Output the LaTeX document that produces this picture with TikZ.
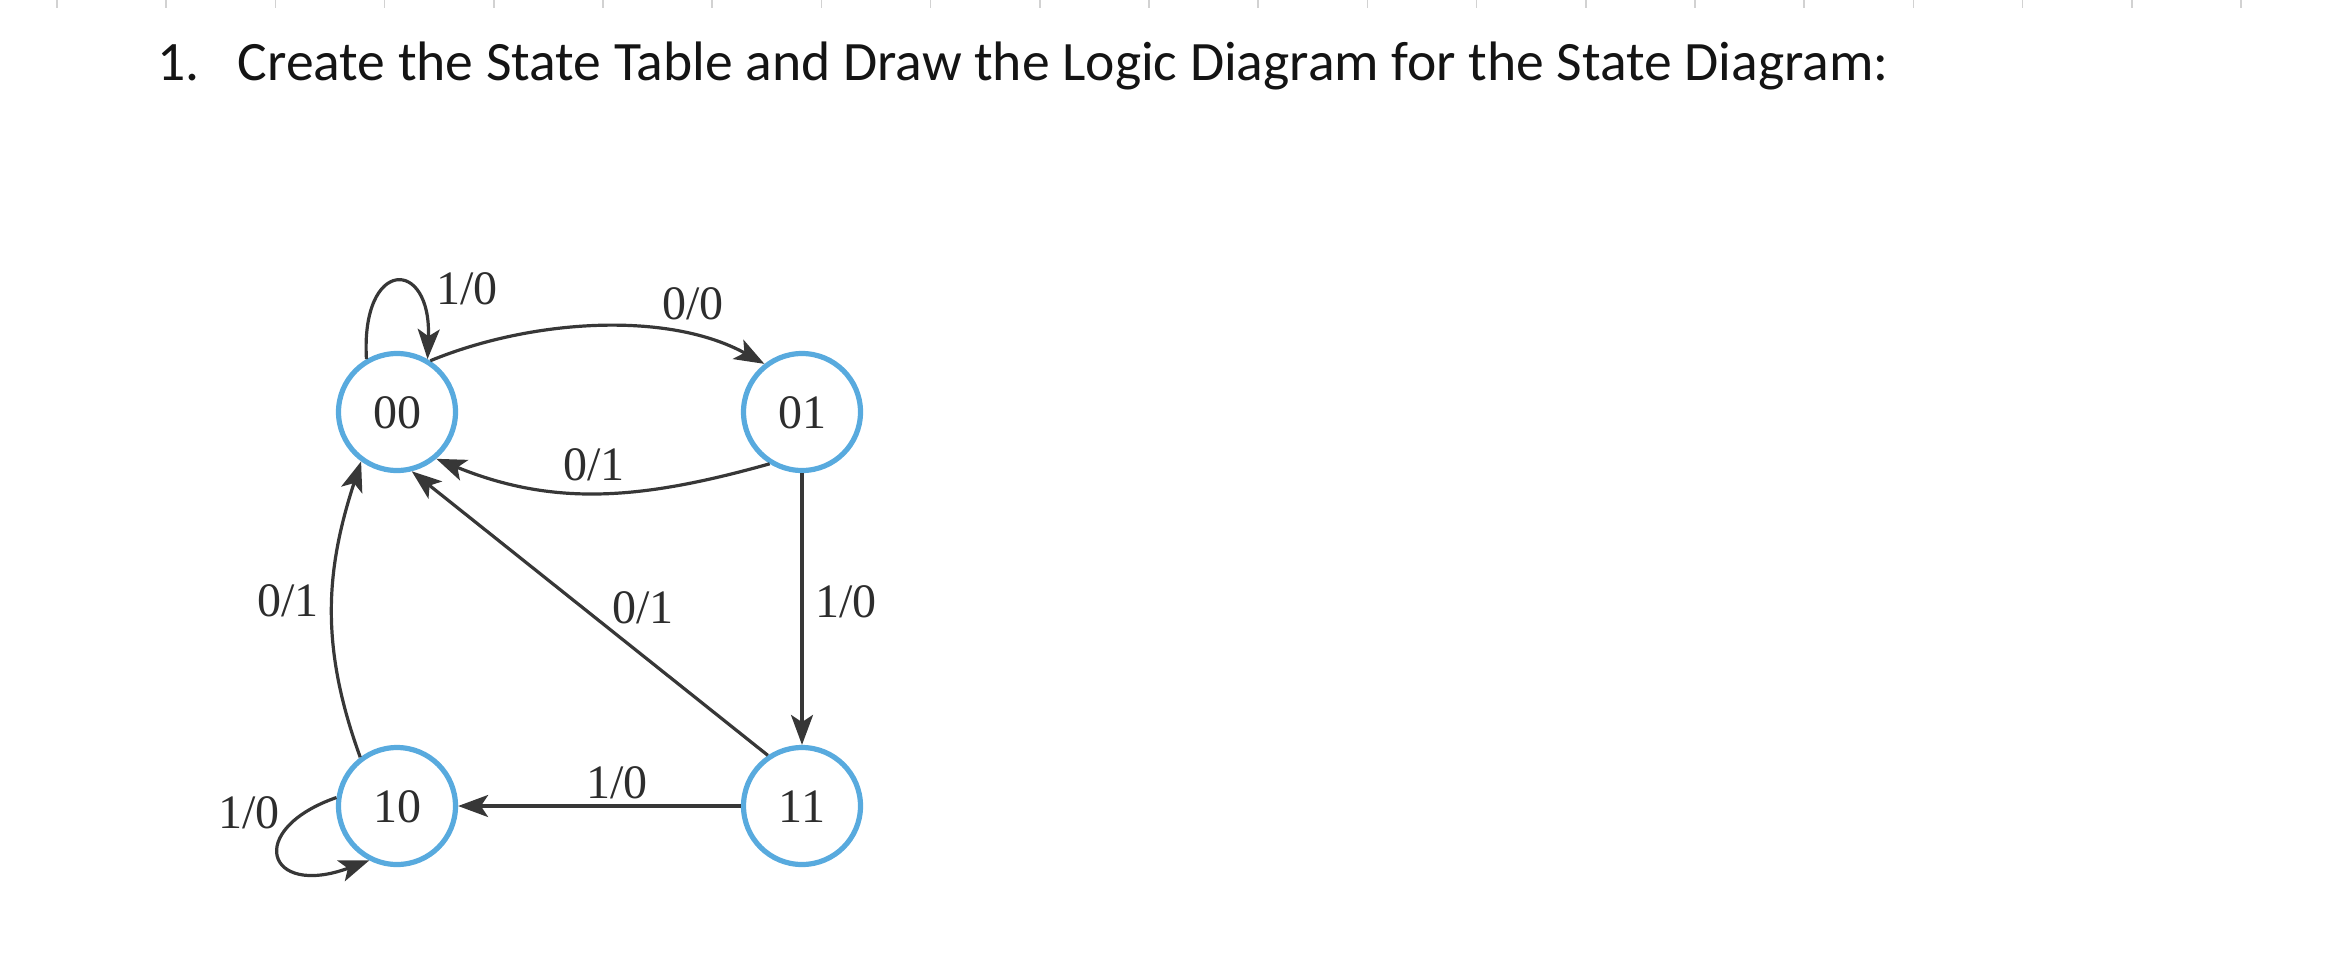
\documentclass[tikz,border=0pt]{standalone}
\usepackage{fontspec}
\usetikzlibrary{arrows.meta}
\newfontfamily\titlefont{Carlito}
\newfontfamily\diagfont{Liberation Serif}
\definecolor{stateblue}{RGB}{88,170,222}
\definecolor{edgegray}{RGB}{55,55,55}
\definecolor{labelgray}{RGB}{45,45,45}
\definecolor{tickgray}{RGB}{210,210,210}
\definecolor{titleblack}{RGB}{20,20,20}
\begin{document}
\begin{tikzpicture}[x=0.25pt,y=-0.25pt,
  state/.style={circle,draw=stateblue,line width=1.3pt,minimum size=29.25pt,inner sep=0pt,
    font=\diagfont\fontsize{12pt}{14pt}\selectfont,text=labelgray,text height=8.1pt,text depth=0pt},
  lbl/.style={inner sep=0pt,font=\diagfont\fontsize{12pt}{14pt}\selectfont,text=labelgray,
    text height=8.1pt,text depth=0pt},
  edge/.style={draw=edgegray,line width=0.8pt,-{Stealth[length=7.5pt,width=5.5pt,inset=1.8pt]}},
  ruler/.style={draw=tickgray,line width=0.4pt},
  titletext/.style={inner sep=0pt,anchor=base west,text=titleblack,font=\titlefont\fontsize{13.9pt}{17pt}\selectfont}]
\useasboundingbox (0,0) rectangle (2351,974);
% ruler ticks
\foreach \k in {0,...,20} \draw[ruler] ({57+109.2*\k},0) -- ++(0,8);
% title
\node[titletext] (num) at (157,80) {1.};
\node[titletext] (title) at (237,80) {Create the State Table and Draw the Logic Diagram for the State Diagram:};
% states
\node[state] (s00) at (397,412) {00};
\node[state] (s01) at (802,412) {01};
\node[state] (s10) at (397,806) {10};
\node[state] (s11) at (802,806) {11};
% edges
\draw[edge] (s00.120) .. controls +(-6,-102) and +(4,-102) .. (s00.60);
\draw[edge] (s00.57) .. controls +(102,-42) and +(-96,-53) .. (s01.128);
\draw[edge] (s01.238) .. controls +(-125,35) and +(120,49) .. (s00.-50);
\draw[edge] (s01.south) -- (s11.north);
\draw[edge] (s11.west) -- (s10.east);
\draw[edge] (s11.124) -- (s00.-76);
\draw[edge] (s10.127) .. controls +(-40,-110) and +(-36,110) .. (s00.234);
\draw[edge] (s10.172) .. controls +(-92,32) and +(-103,38) .. (s10.243);
% labels
\node[lbl] (l1) at (467,288) {1/0};
\node[lbl] (l2) at (693,303) {0/0};
\node[lbl] (l3) at (594,464) {0/1};
\node[lbl] (l4) at (288,600) {0/1};
\node[lbl] (l5) at (643,607) {0/1};
\node[lbl] (l6) at (846,601) {1/0};
\node[lbl] (l7) at (617,782) {1/0};
\node[lbl] (l8) at (249,812) {1/0};
\end{tikzpicture}
\end{document}
